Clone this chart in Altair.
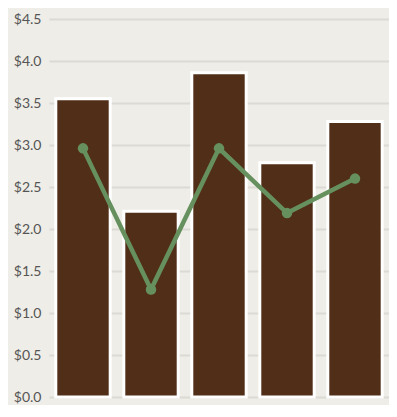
import altair as alt
import pandas as pd

categories = ["A", "B", "C", "D", "E"]
bar_values = [3.55, 2.21, 3.86, 2.79, 3.28]
line_values = [2.96, 1.28, 2.96, 2.19, 2.60]
y_ticks = [0, 0.5, 1.0, 1.5, 2.0, 2.5, 3.0, 3.5, 4.0, 4.5]

df = pd.DataFrame({"cat": categories, "bar": bar_values, "line": line_values})

x = alt.X("cat:N", sort=categories, axis=None,
          scale=alt.Scale(paddingInner=0.2, paddingOuter=0.1))
yscale = alt.Scale(domain=[0, 4.5], nice=False, zero=True)

bars = alt.Chart(df).mark_bar(
    color="#512e17", stroke="#ffffff", strokeWidth=3
).encode(
    x=x,
    y=alt.Y("bar:Q", scale=yscale, title=None,
            axis=alt.Axis(values=y_ticks, format="$.1f", domain=False, ticks=False,
                          labelPadding=8, labelFontSize=14, labelColor="#555555",
                          labelFont="Lato", gridColor="#dcdad3", gridWidth=2)),
)

line = alt.Chart(df).mark_line(
    color="#66915f", strokeWidth=4.5,
    point=alt.OverlayMarkDef(color="#66915f", size=110, filled=True, opacity=1)
).encode(
    x=x,
    y=alt.Y("line:Q", scale=yscale),
)

chart = alt.layer(bars, line).properties(
    width=340, height=378,
    background="#efede7",
    autosize=alt.AutoSizeParams(type="none"),
    padding={"left": 41, "top": 11, "right": 0, "bottom": 8},
).configure_view(stroke=None)

chart.save("out.html", embed_options={"renderer": "svg", "actions": False})
